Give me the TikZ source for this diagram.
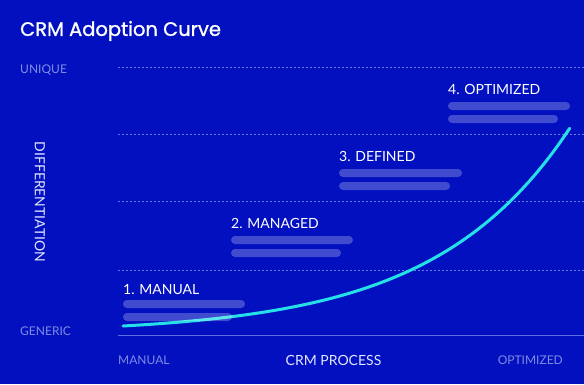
\documentclass[tikz,border=0pt]{standalone}
\usepackage{fontspec}
\setmainfont{Lato}
\newfontfamily\titlefont[FakeBold=1.2]{Poppins}
\usepackage{xcolor}
\definecolor{bgblue}{RGB}{2, 16, 192}
\definecolor{gridblue}{RGB}{110, 122, 232}
\definecolor{axisblue}{RGB}{96, 108, 226}
\definecolor{mutedlabel}{RGB}{128, 140, 226}
\definecolor{softwhite}{RGB}{225, 230, 255}
\definecolor{curvecyan}{RGB}{38, 224, 232}
\tikzset{
  gridline/.style={gridblue, line width=0.6pt, dash pattern=on 2pt off 2pt},
  axislabel/.style={font=\fontsize{12}{14}\selectfont, text=mutedlabel, inner sep=0pt, anchor=west},
  stagelabel/.style={font=\fontsize{14}{16}\selectfont, text=white, inner sep=0pt, anchor=west},
  stagebar/.style={fill=white, fill opacity=0.25, rounded corners=4pt}
}
\begin{document}
\begin{tikzpicture}[x=1pt, y=-1pt]
  % background and frame
  \fill[bgblue] (0,0) rectangle (584,384);
  \useasboundingbox (0,0) rectangle (584,384);

  \node[inner sep=0pt, anchor=west, text=white, font=\titlefont\fontsize{19.5}{22}\selectfont] (title) at (20,31) {CRM Adoption Curve};

  % grid
  \foreach \gy in {67,134,201,270}
    \draw[gridline] (118,\gy) -- (584,\gy);
  \draw[axisblue, line width=0.8pt] (118,335) -- (584,335);

  % axis labels
  \node[axislabel] (unique) at (20,70) {UNIQUE};
  \node[axislabel] (generic) at (20,331) {GENERIC};
  \node[axislabel] (manualx) at (118,360) {MANUAL};
  \node[axislabel, anchor=east] (optimizedx) at (563,360) {OPTIMIZED};
  \node[stagelabel, anchor=center, text=softwhite] (process) at (333.5,360) {CRM PROCESS};
  \node[stagelabel, anchor=center, text=softwhite, rotate=-90] (differ) at (40,202) {DIFFERENTIATION};

  % adoption curve
  \draw[curvecyan, line width=3pt, line cap=round]
    plot[domain=0:1, samples=80, smooth] ({123+447*\x}, {326-7.59*(exp(3.3*\x)-1)});

  % stages
  \node[stagelabel] (manual) at (123,290) {1. MANUAL};
  \fill[stagebar] (123,300) rectangle (245,308);
  \fill[stagebar] (123,313) rectangle (232,321);

  \node[stagelabel] (managed) at (231,223) {2. MANAGED};
  \fill[stagebar] (231,236) rectangle (353,244);
  \fill[stagebar] (231,249) rectangle (341,257);

  \node[stagelabel] (defined) at (339,156) {3. DEFINED};
  \fill[stagebar] (339,169) rectangle (462,177);
  \fill[stagebar] (339,182) rectangle (450,190);

  \node[stagelabel] (optimized) at (448,89) {4. OPTIMIZED};
  \fill[stagebar] (448,102) rectangle (570,110);
  \fill[stagebar] (448,115) rectangle (558,123);
\end{tikzpicture}
\end{document}
